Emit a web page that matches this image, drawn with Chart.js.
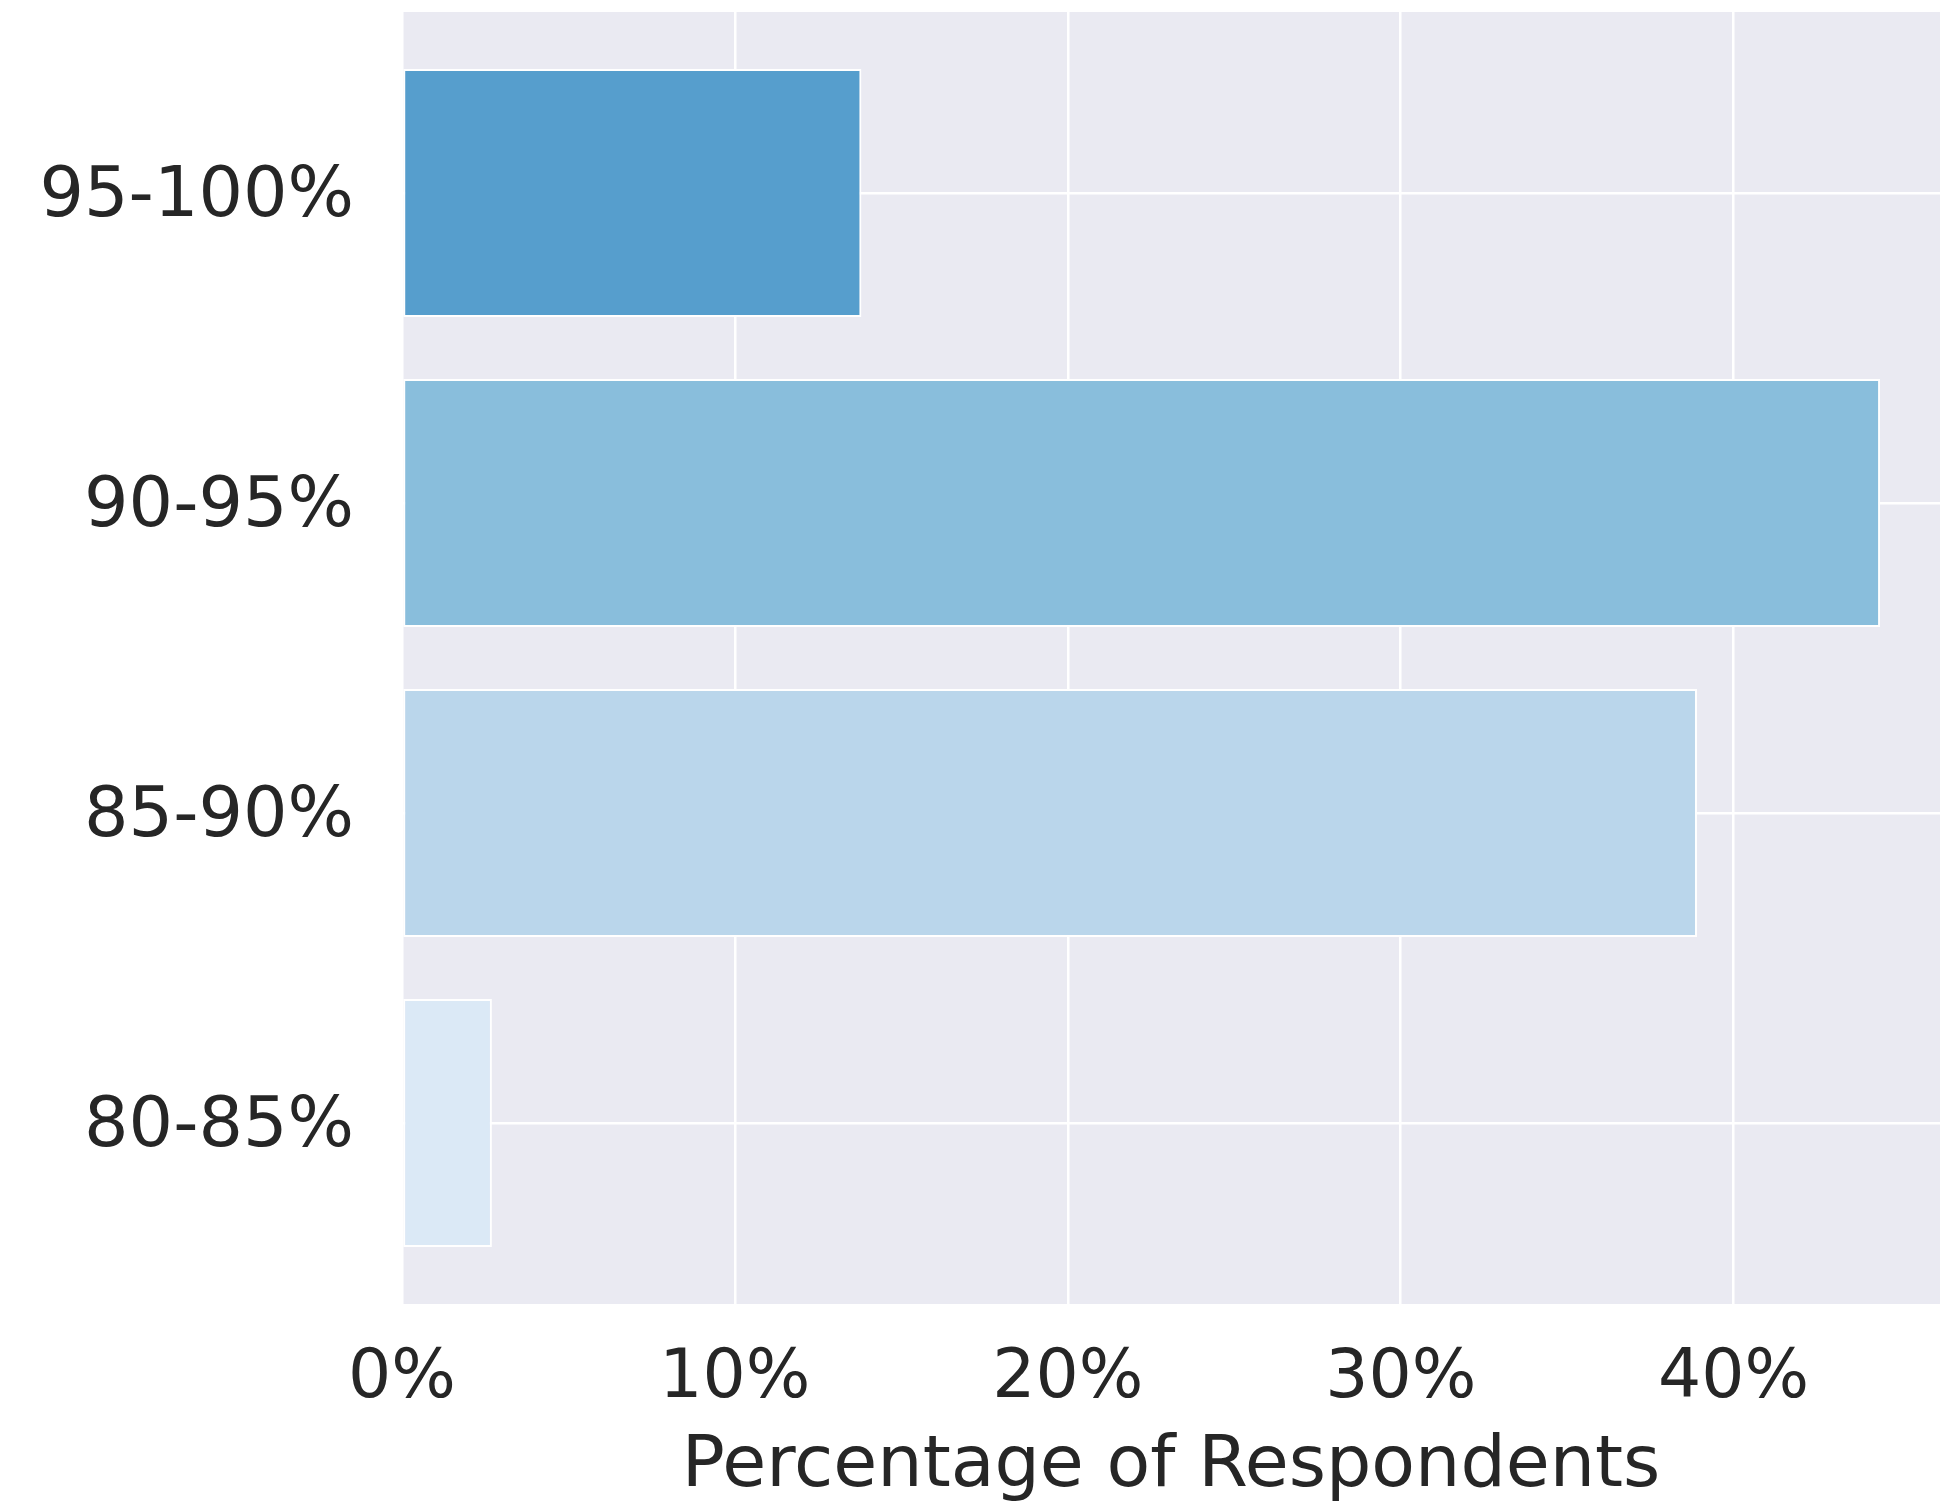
<!DOCTYPE html>
<html>
<head>
<meta charset="utf-8">
<script src="https://cdn.jsdelivr.net/npm/chart.js@4"></script>
<style>
  html, body { margin: 0; padding: 0; background: #ffffff; }
  #c { display: block; }
</style>
</head>
<body>
<canvas id="c" width="1940" height="1503"></canvas>
<script>
// Categories (bottom to top, as in the original horizontal bar chart)
const categories = ['80-85%', '85-90%', '90-95%', '95-100%'];
// Percentage of respondents per category
const values = [2.7, 38.9, 44.4, 13.8];
// Bar colours (seaborn "Blues")
const barColors = ['#dbe9f6', '#bad6eb', '#89bedc', '#569ecd'];
// x tick values
const xTickValues = [0, 10, 20, 30, 40];

const FONT = "'DejaVu Sans', 'Liberation Sans', sans-serif";
const TEXT = '#262626';

const plotBg = {
  id: 'plotBg',
  beforeDraw(chart) {
    const { ctx, chartArea: a } = chart;
    ctx.save();
    ctx.fillStyle = '#eaeaf2';
    ctx.fillRect(a.left, a.top, a.right - a.left, a.bottom - a.top);
    ctx.restore();
  }
};

new Chart(document.getElementById('c'), {
  type: 'bar',
  data: {
    datasets: [{
      data: values.map((v, i) => ({ x: v, y: i })),
      backgroundColor: barColors,
      borderColor: '#ffffff',
      borderWidth: 2,
      borderSkipped: false,
      barPercentage: 0.8,
      categoryPercentage: 1.0
    }]
  },
  options: {
    indexAxis: 'y',
    responsive: false,
    animation: false,
    layout: { padding: { left: 0, top: 12, right: 0, bottom: 0 } },
    plugins: { legend: { display: false }, tooltip: { enabled: false } },
    scales: {
      x: {
        type: 'linear',
        min: 0,
        max: 46.2,
        afterBuildTicks(scale) { scale.ticks = xTickValues.map(v => ({ value: v })); },
        afterFit(scale) {
          scale.height = 199;
          scale.paddingLeft = 0; scale.paddingRight = 0;
        },
        ticks: {
          callback: v => v + '%',
          color: TEXT,
          font: { family: FONT, size: 68 },
          padding: 35,
          maxRotation: 0
        },
        grid: { color: '#ffffff', lineWidth: 2.5, drawTicks: false },
        border: { display: false },
        title: {
          display: true,
          text: 'Percentage of Respondents',
          color: TEXT,
          font: { family: FONT, size: 71.5 },
          padding: { top: 0, bottom: -7 }
        }
      },
      y: {
        type: 'linear',
        min: -0.584,
        max: 3.584,
        offset: false,
        afterBuildTicks(scale) { scale.ticks = categories.map((_, i) => ({ value: i })); },
        afterFit(scale) {
          scale.width = 402;
          scale.paddingTop = 0; scale.paddingBottom = 0;
        },
        ticks: {
          callback: v => categories[v],
          color: TEXT,
          font: { family: FONT, size: 70 },
          padding: 48,
          labelOffset: 5
        },
        grid: { color: '#ffffff', lineWidth: 2.5, drawTicks: false, offset: false },
        border: { display: false }
      }
    }
  },
  plugins: [plotBg]
});
</script>
</body>
</html>
